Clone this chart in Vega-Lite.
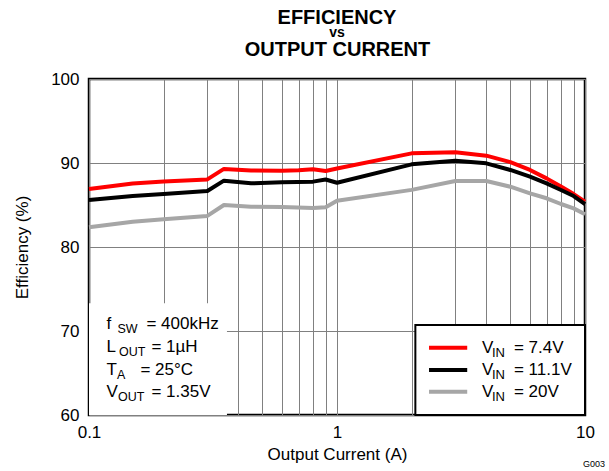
{
  "$schema": "https://vega.github.io/schema/vega-lite/v6.json",
  "autosize": {"type": "none"},
  "padding": {"left": 89, "top": 79, "right": 24, "bottom": 56},
  "width": 496,
  "height": 336,
  "background": "white",
  "config": {
    "font": "Liberation Sans",
    "view": {"stroke": "black", "strokeWidth": 2.5},
    "axis": {
      "labelFontSize": 17,
      "labelColor": "black",
      "titleFontSize": 17,
      "titleFontWeight": "normal",
      "titleColor": "black",
      "ticks": false,
      "domain": false,
      "gridColor": "#808080",
      "gridWidth": 1,
      "gridOpacity": 1
    }
  },
  "title": {
    "text": "EFFICIENCY",
    "subtitle": "vs",
    "fontSize": 20,
    "fontWeight": "bold",
    "color": "black",
    "subtitleFontSize": 14,
    "subtitleFontWeight": "bold",
    "subtitleColor": "black",
    "subtitlePadding": -2,
    "offset": -1,
    "anchor": "middle"
  },
  "resolve": {"axis": {"x": "independent", "y": "independent"}},
  "datasets": {
    "eff": [
      {"s": "7.4V", "I": 0.1, "E": 86.9},
      {"s": "7.4V", "I": 0.15, "E": 87.55},
      {"s": "7.4V", "I": 0.2, "E": 87.8},
      {"s": "7.4V", "I": 0.3, "E": 88.05},
      {"s": "7.4V", "I": 0.35, "E": 89.3},
      {"s": "7.4V", "I": 0.45, "E": 89.12},
      {"s": "7.4V", "I": 0.6, "E": 89.08},
      {"s": "7.4V", "I": 0.7, "E": 89.15},
      {"s": "7.4V", "I": 0.8, "E": 89.25},
      {"s": "7.4V", "I": 0.9, "E": 89.05},
      {"s": "7.4V", "I": 1, "E": 89.35},
      {"s": "7.4V", "I": 2, "E": 91.15},
      {"s": "7.4V", "I": 3, "E": 91.27},
      {"s": "7.4V", "I": 4, "E": 90.87},
      {"s": "7.4V", "I": 5, "E": 90.1},
      {"s": "7.4V", "I": 6, "E": 89.17},
      {"s": "7.4V", "I": 7, "E": 88.17},
      {"s": "7.4V", "I": 8, "E": 87.2},
      {"s": "7.4V", "I": 9, "E": 86.3},
      {"s": "7.4V", "I": 10, "E": 85.4},
      {"s": "11.1V", "I": 0.1, "E": 85.6},
      {"s": "11.1V", "I": 0.15, "E": 86.07},
      {"s": "11.1V", "I": 0.2, "E": 86.3},
      {"s": "11.1V", "I": 0.3, "E": 86.67},
      {"s": "11.1V", "I": 0.35, "E": 87.9},
      {"s": "11.1V", "I": 0.45, "E": 87.58},
      {"s": "11.1V", "I": 0.6, "E": 87.7},
      {"s": "11.1V", "I": 0.8, "E": 87.78},
      {"s": "11.1V", "I": 0.9, "E": 88.03},
      {"s": "11.1V", "I": 1, "E": 87.65},
      {"s": "11.1V", "I": 2, "E": 89.84},
      {"s": "11.1V", "I": 3, "E": 90.28},
      {"s": "11.1V", "I": 4, "E": 89.96},
      {"s": "11.1V", "I": 5, "E": 89.17},
      {"s": "11.1V", "I": 6, "E": 88.37},
      {"s": "11.1V", "I": 7, "E": 87.58},
      {"s": "11.1V", "I": 8, "E": 86.79},
      {"s": "11.1V", "I": 9, "E": 86.07},
      {"s": "11.1V", "I": 10, "E": 85.1},
      {"s": "20V", "I": 0.1, "E": 82.35},
      {"s": "20V", "I": 0.15, "E": 83.0},
      {"s": "20V", "I": 0.2, "E": 83.3},
      {"s": "20V", "I": 0.3, "E": 83.7},
      {"s": "20V", "I": 0.35, "E": 85.0},
      {"s": "20V", "I": 0.45, "E": 84.8},
      {"s": "20V", "I": 0.6, "E": 84.76},
      {"s": "20V", "I": 0.8, "E": 84.64},
      {"s": "20V", "I": 0.9, "E": 84.72},
      {"s": "20V", "I": 1, "E": 85.5},
      {"s": "20V", "I": 2, "E": 86.8},
      {"s": "20V", "I": 3, "E": 87.86},
      {"s": "20V", "I": 4, "E": 87.86},
      {"s": "20V", "I": 5, "E": 87.18},
      {"s": "20V", "I": 6, "E": 86.39},
      {"s": "20V", "I": 7, "E": 85.8},
      {"s": "20V", "I": 8, "E": 85.12},
      {"s": "20V", "I": 9, "E": 84.6},
      {"s": "20V", "I": 10, "E": 83.9}
    ],
    "notes": [
      {"k": "f", "main": "f", "sub": "SW", "rest": "= 400kHz", "I": 0.1176, "E": 70.24},
      {"k": "L", "main": "L", "sub": "OUT", "rest": "= 1µH", "I": 0.1176, "E": 67.5},
      {"k": "T", "main": "T", "sub": "A", "rest": "= 25°C", "I": 0.1176, "E": 64.76},
      {"k": "V", "main": "V", "sub": "OUT", "rest": "= 1.35V", "I": 0.1176, "E": 62.14}
    ],
    "legend": [
      {"s": "7.4V", "rest": "= 7.4V", "I1": 2.35, "I2": 3.35, "Es": 68.01, "It": 3.84, "Et": 67.35},
      {"s": "11.1V", "rest": "= 11.1V", "I1": 2.35, "I2": 3.35, "Es": 65.36, "It": 3.84, "Et": 64.76},
      {"s": "20V", "rest": "= 20V", "I1": 2.35, "I2": 3.35, "Es": 62.77, "It": 3.84, "Et": 62.1}
    ],
    "boxes": [
      {"b": "notes", "I1": 0.1, "I2": 0.36, "E1": 60, "E2": 73.3},
      {"b": "legend", "I1": 2.07, "I2": 10, "E1": 60, "E2": 70.7}
    ],
    "code": [{"I": 10, "E": 60, "t": "G003"}]
  },
  "layer": [
    {
      "data": {"name": "boxes"},
      "transform": [{"filter": {"field": "b", "equal": "notes"}}],
      "mark": {"type": "rect", "fill": "white"},
      "encoding": {
        "x": {"field": "I1", "type": "quantitative", "scale": {"type": "log", "domain": [0.1, 10]}, "axis": null},
        "x2": {"field": "I2"},
        "y": {"field": "E1", "type": "quantitative", "scale": {"domain": [60, 100]}, "axis": null},
        "y2": {"field": "E2"}
      }
    },
    {
      "data": {"name": "boxes"},
      "transform": [{"filter": {"field": "b", "equal": "legend"}}],
      "mark": {"type": "rect", "fill": "white", "stroke": "black", "strokeWidth": 2},
      "encoding": {
        "x": {"field": "I1", "type": "quantitative", "scale": {"type": "log", "domain": [0.1, 10]}, "axis": null},
        "x2": {"field": "I2"},
        "y": {"field": "E1", "type": "quantitative", "scale": {"domain": [60, 100]}, "axis": null},
        "y2": {"field": "E2"}
      }
    },
    {
      "data": {"name": "eff"},
      "mark": {"type": "line", "strokeWidth": 4, "strokeJoin": "round"},
      "encoding": {
        "x": {
          "field": "I", "type": "quantitative",
          "scale": {"type": "log", "domain": [0.1, 10]},
          "axis": {
            "orient": "bottom",
            "title": "Output Current (A)",
            "values": [0.1, 0.2, 0.3, 0.4, 0.5, 0.6, 0.7, 0.8, 0.9, 1, 2, 3, 4, 5, 6, 7, 8, 9, 10],
            "labelExpr": "datum.value == 0.1 ? '0.1' : datum.value == 1 ? '1' : datum.value == 10 ? '10' : ''",
            "labelOverlap": false,
            "labelFlush": false,
            "labelPadding": 9,
            "titlePadding": 6,
            "grid": true
          }
        },
        "y": {
          "field": "E", "type": "quantitative",
          "scale": {"domain": [60, 100]},
          "axis": {
            "orient": "left",
            "title": "Efficiency (%)",
            "values": [60, 70, 80, 90, 100],
            "labelPadding": 10,
            "titlePadding": 19,
            "grid": true
          }
        },
        "color": {
          "field": "s", "type": "nominal",
          "scale": {"domain": ["7.4V", "11.1V", "20V"], "range": ["#FF0000", "#000000", "#A6A6A6"]},
          "legend": null
        },
        "order": {"field": "I", "type": "quantitative"}
      }
    },
    {
      "data": {"name": "legend"},
      "mark": {"type": "rule", "strokeWidth": 4},
      "encoding": {
        "x": {"field": "I1", "type": "quantitative", "scale": {"type": "log", "domain": [0.1, 10]}, "axis": null},
        "x2": {"field": "I2"},
        "y": {"field": "Es", "type": "quantitative", "scale": {"domain": [60, 100]}, "axis": null},
        "color": {"field": "s", "type": "nominal", "scale": {"domain": ["7.4V", "11.1V", "20V"], "range": ["#FF0000", "#000000", "#A6A6A6"]}, "legend": null}
      }
    },
    {
      "data": {"name": "legend"},
      "mark": {"type": "text", "text": "V", "align": "left", "baseline": "alphabetic", "fontSize": 17, "color": "black"},
      "encoding": {
        "x": {"field": "It", "type": "quantitative", "scale": {"type": "log", "domain": [0.1, 10]}, "axis": null},
        "y": {"field": "Et", "type": "quantitative", "scale": {"domain": [60, 100]}, "axis": null}
      }
    },
    {
      "data": {"name": "legend"},
      "mark": {"type": "text", "text": "IN", "align": "left", "baseline": "alphabetic", "fontSize": 13, "dx": 10, "dy": 3.5, "color": "black"},
      "encoding": {
        "x": {"field": "It", "type": "quantitative", "scale": {"type": "log", "domain": [0.1, 10]}, "axis": null},
        "y": {"field": "Et", "type": "quantitative", "scale": {"domain": [60, 100]}, "axis": null}
      }
    },
    {
      "data": {"name": "legend"},
      "mark": {"type": "text", "align": "left", "baseline": "alphabetic", "fontSize": 17, "dx": 32, "color": "black"},
      "encoding": {
        "x": {"field": "It", "type": "quantitative", "scale": {"type": "log", "domain": [0.1, 10]}, "axis": null},
        "y": {"field": "Et", "type": "quantitative", "scale": {"domain": [60, 100]}, "axis": null},
        "text": {"field": "rest"}
      }
    },
    {
      "data": {"name": "notes"},
      "mark": {"type": "text", "align": "left", "baseline": "alphabetic", "fontSize": 17, "color": "black"},
      "encoding": {
        "x": {"field": "I", "type": "quantitative", "scale": {"type": "log", "domain": [0.1, 10]}, "axis": null},
        "y": {"field": "E", "type": "quantitative", "scale": {"domain": [60, 100]}, "axis": null},
        "text": {"field": "main"}
      }
    },
    {
      "data": {"name": "notes"},
      "transform": [{"filter": {"field": "k", "equal": "f"}}],
      "mark": {"type": "text", "align": "left", "baseline": "alphabetic", "fontSize": 12.5, "dx": 11, "dy": 4, "color": "black"},
      "encoding": {
        "x": {"field": "I", "type": "quantitative", "scale": {"type": "log", "domain": [0.1, 10]}, "axis": null},
        "y": {"field": "E", "type": "quantitative", "scale": {"domain": [60, 100]}, "axis": null},
        "text": {"field": "sub"}
      }
    },
    {
      "data": {"name": "notes"},
      "transform": [{"filter": {"field": "k", "equal": "L"}}],
      "mark": {"type": "text", "align": "left", "baseline": "alphabetic", "fontSize": 12.5, "dx": 12.5, "dy": 4, "color": "black"},
      "encoding": {
        "x": {"field": "I", "type": "quantitative", "scale": {"type": "log", "domain": [0.1, 10]}, "axis": null},
        "y": {"field": "E", "type": "quantitative", "scale": {"domain": [60, 100]}, "axis": null},
        "text": {"field": "sub"}
      }
    },
    {
      "data": {"name": "notes"},
      "transform": [{"filter": {"field": "k", "equal": "T"}}],
      "mark": {"type": "text", "align": "left", "baseline": "alphabetic", "fontSize": 12.5, "dx": 10.5, "dy": 4, "color": "black"},
      "encoding": {
        "x": {"field": "I", "type": "quantitative", "scale": {"type": "log", "domain": [0.1, 10]}, "axis": null},
        "y": {"field": "E", "type": "quantitative", "scale": {"domain": [60, 100]}, "axis": null},
        "text": {"field": "sub"}
      }
    },
    {
      "data": {"name": "notes"},
      "transform": [{"filter": {"field": "k", "equal": "V"}}],
      "mark": {"type": "text", "align": "left", "baseline": "alphabetic", "fontSize": 12.5, "dx": 11.5, "dy": 4, "color": "black"},
      "encoding": {
        "x": {"field": "I", "type": "quantitative", "scale": {"type": "log", "domain": [0.1, 10]}, "axis": null},
        "y": {"field": "E", "type": "quantitative", "scale": {"domain": [60, 100]}, "axis": null},
        "text": {"field": "sub"}
      }
    },
    {
      "data": {"name": "notes"},
      "transform": [{"filter": {"field": "k", "equal": "f"}}],
      "mark": {"type": "text", "align": "left", "baseline": "alphabetic", "fontSize": 17, "dx": 40, "color": "black"},
      "encoding": {
        "x": {"field": "I", "type": "quantitative", "scale": {"type": "log", "domain": [0.1, 10]}, "axis": null},
        "y": {"field": "E", "type": "quantitative", "scale": {"domain": [60, 100]}, "axis": null},
        "text": {"field": "rest"}
      }
    },
    {
      "data": {"name": "notes"},
      "transform": [{"filter": {"field": "k", "equal": "L"}}],
      "mark": {"type": "text", "align": "left", "baseline": "alphabetic", "fontSize": 17, "dx": 45, "color": "black"},
      "encoding": {
        "x": {"field": "I", "type": "quantitative", "scale": {"type": "log", "domain": [0.1, 10]}, "axis": null},
        "y": {"field": "E", "type": "quantitative", "scale": {"domain": [60, 100]}, "axis": null},
        "text": {"field": "rest"}
      }
    },
    {
      "data": {"name": "notes"},
      "transform": [{"filter": {"field": "k", "equal": "T"}}],
      "mark": {"type": "text", "align": "left", "baseline": "alphabetic", "fontSize": 17, "dx": 34, "color": "black"},
      "encoding": {
        "x": {"field": "I", "type": "quantitative", "scale": {"type": "log", "domain": [0.1, 10]}, "axis": null},
        "y": {"field": "E", "type": "quantitative", "scale": {"domain": [60, 100]}, "axis": null},
        "text": {"field": "rest"}
      }
    },
    {
      "data": {"name": "notes"},
      "transform": [{"filter": {"field": "k", "equal": "V"}}],
      "mark": {"type": "text", "align": "left", "baseline": "alphabetic", "fontSize": 17, "dx": 45, "color": "black"},
      "encoding": {
        "x": {"field": "I", "type": "quantitative", "scale": {"type": "log", "domain": [0.1, 10]}, "axis": null},
        "y": {"field": "E", "type": "quantitative", "scale": {"domain": [60, 100]}, "axis": null},
        "text": {"field": "rest"}
      }
    },
    {
      "data": {"name": "code"},
      "mark": {"type": "text", "align": "right", "baseline": "alphabetic", "fontSize": 9, "dx": 20, "dy": 52, "color": "black"},
      "encoding": {
        "x": {"field": "I", "type": "quantitative", "scale": {"type": "log", "domain": [0.1, 10]}, "axis": null},
        "y": {"field": "E", "type": "quantitative", "scale": {"domain": [60, 100]}, "axis": null},
        "text": {"field": "t"}
      }
    },
    {
      "data": {"name": "code"},
      "mark": {"type": "point", "opacity": 0},
      "encoding": {
        "x": {
          "field": "I", "type": "quantitative",
          "scale": {"type": "log", "domain": [0.1, 10]},
          "axis": {
            "orient": "top",
            "title": "OUTPUT CURRENT",
            "titleFontSize": 20,
            "titleFontWeight": "bold",
            "titleColor": "black",
            "titlePadding": 20,
            "labels": false,
            "ticks": false,
            "domain": false,
            "grid": false
          }
        },
        "y": {"field": "E", "type": "quantitative", "scale": {"domain": [60, 100]}, "axis": null}
      }
    }
  ]
}
